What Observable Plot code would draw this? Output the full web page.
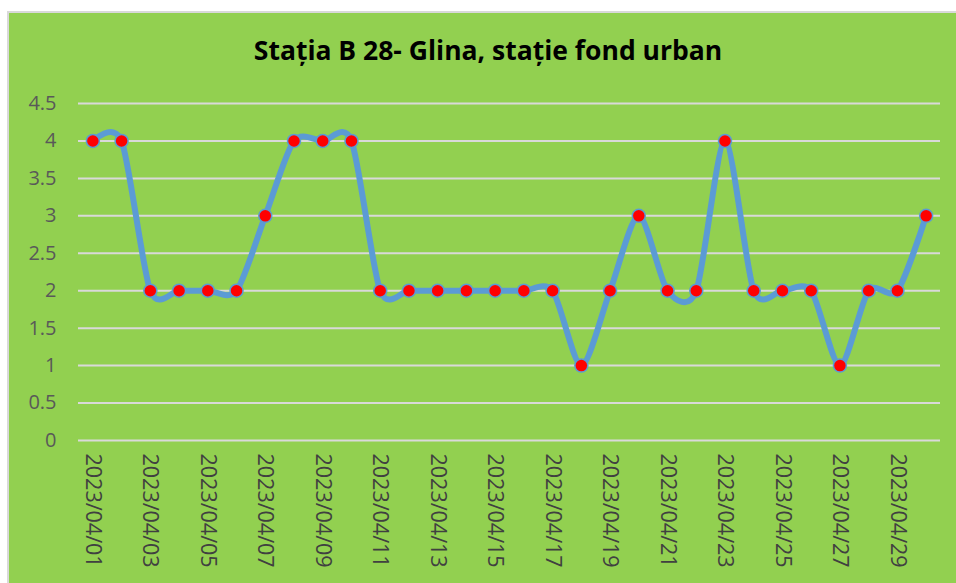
<!DOCTYPE html>
<html>
<head>
<meta charset="utf-8">
<script src="https://cdn.jsdelivr.net/npm/d3@7"></script>
<script src="https://cdn.jsdelivr.net/npm/@observablehq/plot@0.6"></script>
<style>
  body { margin: 0; background: #ffffff; width: 956px; height: 583px; overflow: hidden; font-family: "Open Sans", "Noto Sans", sans-serif; }
  #panel { position: absolute; left: 7px; top: 11px; width: 949px; height: 572px; background: #92D050; border-top: 2px solid #d9d9d9; border-left: 2px solid #d9d9d9; box-sizing: border-box; }
  #title { position: absolute; left: 7px; width: 962px; top: 32px; text-align: center; font-weight: bold; font-size: 26.5px; color: #000; font-family: "Open Sans", sans-serif; }
  #chart { position: absolute; left: 0; top: 0; }
</style>
</head>
<body>
<div id="panel"></div>
<div id="title">Stația B 28- Glina, stație fond urban</div>
<div id="chart"></div>
<script>
const dates = ["2023/04/01","2023/04/02","2023/04/03","2023/04/04","2023/04/05","2023/04/06","2023/04/07","2023/04/08","2023/04/09","2023/04/10",
  "2023/04/11","2023/04/12","2023/04/13","2023/04/14","2023/04/15","2023/04/16","2023/04/17","2023/04/18","2023/04/19","2023/04/20",
  "2023/04/21","2023/04/22","2023/04/23","2023/04/24","2023/04/25","2023/04/26","2023/04/27","2023/04/28","2023/04/29","2023/04/30"];
const values = [4,4,2,2,2,2,3,4,4,4, 2,2,2,2,2,2,2,1,2,3, 2,2,4,2,2,2,1,2,2,3];
const xTickLabels = ["2023/04/01","2023/04/03","2023/04/05","2023/04/07","2023/04/09","2023/04/11","2023/04/13","2023/04/15",
  "2023/04/17","2023/04/19","2023/04/21","2023/04/23","2023/04/25","2023/04/27","2023/04/29"];
const yTicks = [0,0.5,1,1.5,2,2.5,3,3.5,4,4.5];

const data = dates.map((d, i) => ({date: d, value: values[i]}));

const plot = Plot.plot({
  width: 956,
  height: 583,
  marginLeft: 78,
  marginRight: 16,
  marginTop: 103,
  marginBottom: 143,
  style: {background: "none", overflow: "visible", fontFamily: "'Open Sans', sans-serif"},
  x: {type: "point", domain: dates, padding: 0.5, round: false},
  y: {domain: [0, 4.5]},
  marks: [
    Plot.ruleY(yTicks, {stroke: "#d9d9d9", strokeWidth: 2}),
    Plot.axisY(yTicks, {tickSize: 0, tickPadding: 22, tickFormat: d => String(d), fontSize: 20, fill: "#595959", label: null}),
    Plot.axisX(xTickLabels, {tickSize: 0, tickPadding: 13, tickRotate: 90, fontSize: 21.5, fill: "#404040", label: null}),
    Plot.line(data, {x: "date", y: "value", curve: "cardinal", tension: 0.2, stroke: "#5B9BD5", strokeWidth: 6}),
    Plot.dot(data, {x: "date", y: "value", r: 6.5, fill: "#FF0000", stroke: "#5B9BD5", strokeWidth: 1.5})
  ]
});
document.getElementById("chart").appendChild(plot);
</script>
</body>
</html>
